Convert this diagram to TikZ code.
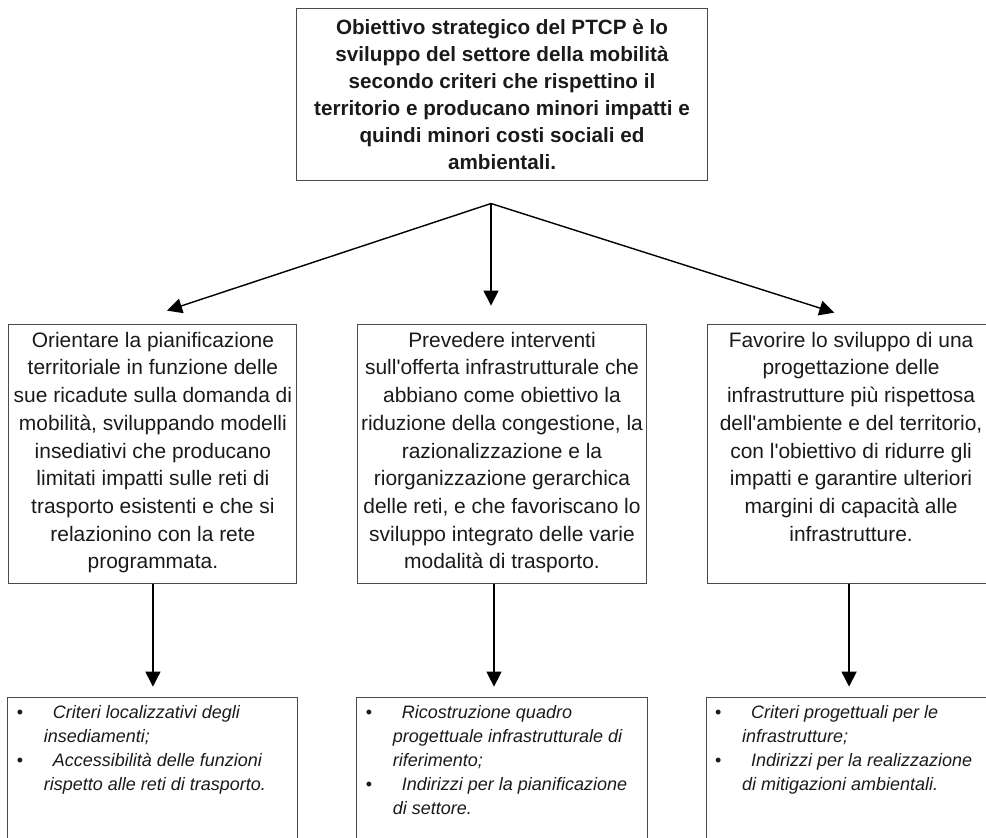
\documentclass[tikz,border=0pt]{standalone}
\usepackage{fontspec}
\setmainfont{Liberation Sans}
\usepackage{tikz}
\usetikzlibrary{arrows.meta, positioning}

\definecolor{linegray}{HTML}{4A4A4A}
\definecolor{textblack}{HTML}{1A1A1A}

\newcommand{\listdot}{\hspace*{0.225cm}\makebox[0.9cm][l]{\upshape\textbullet}}
\newcommand{\listwrap}{\hspace*{0.9cm}}

\begin{document}
\begin{tikzpicture}[
    x=0.025cm, y=-0.025cm,
    node distance=1.5cm,
    goalbox/.style={rectangle, draw=linegray, line width=0.7pt, text=textblack, minimum width=10.25cm, minimum height=4.275cm, inner sep=0pt, align=center, font=\fontsize{14.7}{19.2}\selectfont\bfseries},
    aimbox/.style={rectangle, draw=linegray, line width=0.7pt, text=textblack, inner sep=0pt, font=\fontsize{14.9}{19.7}\selectfont,
      execute at begin node={\begin{minipage}[c][6.475cm][t]{7.2cm}\centering\vspace*{0.2cm}},
      execute at end node={\end{minipage}}},
    listbox/.style={rectangle, draw=linegray, line width=0.7pt, text=textblack, inner sep=0pt, font=\fontsize{12.8}{17.2}\selectfont\itshape,
      execute at begin node={\begin{minipage}[c][6.5cm][t]{7.25cm}\raggedright\vspace*{0.2cm}},
      execute at end node={\end{minipage}}},
    arr/.style={-{Triangle[length=3.75mm, width=3.75mm]}, black, line width=1pt},
  ]
    \useasboundingbox (0,0) rectangle (986,837);
    \clip (0,0) rectangle (986,837);

    \node[goalbox] (goal) at (502,94.5) {Obiettivo strategico del PTCP è lo\\ sviluppo del settore della mobilità\\ secondo criteri che rispettino il\\ territorio e producano minori impatti e\\ quindi minori costi sociali ed\\ ambientali.};
    \coordinate (fork) at ([xshift=-0.275cm, yshift=-0.575cm]goal.south);

    \node[aimbox, below=3.575cm of goal] (aim2) {Prevedere interventi\\ sull\textquotesingle offerta infrastrutturale che\\ abbiano come obiettivo la\\ riduzione della congestione, la\\ razionalizzazione e la\\ riorganizzazione gerarchica\\ delle reti, e che favoriscano lo\\ sviluppo integrato delle varie\\ modalità di trasporto.};
    \node[aimbox, left=of aim2] (aim1) {Orientare la pianificazione\\ territoriale in funzione delle\\ sue ricadute sulla domanda di\\ mobilità, sviluppando modelli\\ insediativi che producano\\ limitati impatti sulle reti di\\ trasporto esistenti e che si\\ relazionino con la rete\\ programmata.};
    \node[aimbox, right=of aim2] (aim3) {Favorire lo sviluppo di una\\ progettazione delle\\ infrastrutture più rispettosa\\ dell\textquotesingle ambiente e del territorio,\\ con l\textquotesingle obiettivo di ridurre gli\\ impatti e garantire ulteriori\\ margini di capacità alle\\ infrastrutture.};

    \node[listbox, below=2.825cm of aim1] (list1) {\listdot Criteri localizzativi degli\\ \listwrap insediamenti;\\ \listdot Accessibilità delle funzioni\\ \listwrap rispetto alle reti di trasporto.};
    \node[listbox, below=2.825cm of aim2] (list2) {\listdot Ricostruzione quadro\\ \listwrap progettuale infrastrutturale di\\ \listwrap riferimento;\\ \listdot Indirizzi per la pianificazione\\ \listwrap di settore.};
    \node[listbox, below=2.825cm of aim3] (list3) {\listdot Criteri progettuali per le\\ \listwrap infrastrutture;\\ \listdot Indirizzi per la realizzazione\\ \listwrap di mitigazioni ambientali.};

    % from the goal to the three aims
    \draw[arr, shorten >=1.03cm] (fork) -- ([xshift=-0.625cm]aim1.north);
    \draw[arr, shorten >=0.45cm] (fork) -- (fork |- aim2.north);
    \draw[arr, shorten >=0.9cm] (fork) -- ([xshift=0.44cm]aim3.north);

    % from each aim to its list
    \draw[arr, shorten >=0.25cm] (aim1.south) -- (aim1.south |- list1.north);
    \draw[arr, shorten >=0.25cm] ([xshift=-0.2cm]aim2.south) -- ([xshift=-0.2cm]aim2.south |- list2.north);
    \draw[arr, shorten >=0.25cm] ([xshift=-0.05cm]aim3.south) -- ([xshift=-0.05cm]aim3.south |- list3.north);
  \end{tikzpicture}
\end{document}
